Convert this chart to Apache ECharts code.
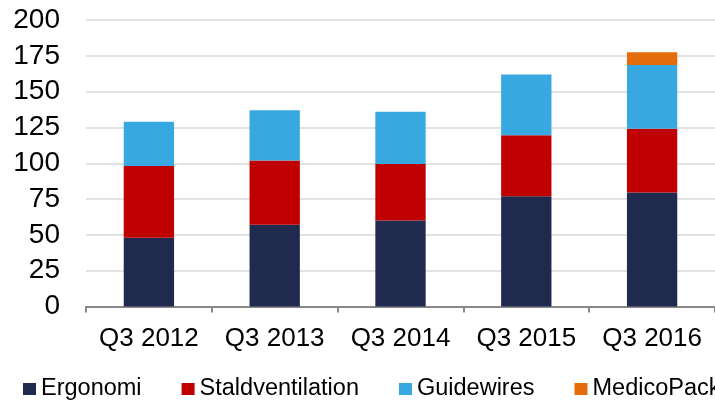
<!DOCTYPE html>
<html lang="da">
<head>
    <meta charset="UTF-8">
    <title>Omsætning pr. forretningsområde</title>
    <script src="https://cdn.jsdelivr.net/npm/echarts@6/dist/echarts.min.js"></script>
    <style>
        html, body {
            width: 100%;
            height: 100%;
            margin: 0;
            overflow: hidden;
            background: #fff;
        }
        #main {
            width: 715px;
            height: 401px;
        }
    </style>
</head>
<body>
<div id="main"></div>
<script>
    // data
    var quarters = ['Q3 2012', 'Q3 2013', 'Q3 2014', 'Q3 2015', 'Q3 2016'];
    var ergonomi = [48, 57, 60, 77, 79.5];
    var staldventilation = [50, 45, 39.5, 42.5, 44.5];
    var guidewires = [31, 35, 36.5, 42.5, 44.5];
    var medicoPack = [0, 0, 0, 0, 9];
    var yTicks = [0, 25, 50, 75, 100, 125, 150, 175, 200];

    var font = '"Liberation Sans", Arial, sans-serif';

    function stack(name, values, color) {
        return {
            name: name,
            type: 'bar',
            stack: 'total',
            barWidth: '40%',
            data: values,
            itemStyle: { color: color },
            emphasis: { disabled: true }
        };
    }

    var myChart = echarts.init(document.getElementById('main'));
    var option = {
        animation: false,
        grid: {
            left: 86,
            right: -6,
            top: 20,
            bottom: 94.5,
            containLabel: false
        },
        legend: {
            left: 23,
            top: 377,
            width: 1000,
            padding: 0,
            icon: 'rect',
            itemWidth: 13,
            itemHeight: 12,
            itemGap: 40,
            textStyle: { fontFamily: font, fontSize: 23.5, color: '#000' },
            data: ['Ergonomi', 'Staldventilation', 'Guidewires', 'MedicoPack']
        },
        xAxis: {
            type: 'category',
            data: quarters,
            axisLine: { lineStyle: { color: '#898989', width: 2 } },
            axisTick: { show: true, length: 6, lineStyle: { color: '#898989', width: 2 } },
            axisLabel: { fontFamily: font, fontSize: 26, color: '#000', margin: 19, interval: 0 }
        },
        yAxis: {
            type: 'value',
            min: yTicks[0],
            max: yTicks[yTicks.length - 1],
            interval: 25,
            axisLine: { show: false },
            axisTick: { show: false },
            axisLabel: { fontFamily: font, fontSize: 28, color: '#000', margin: 26 },
            splitLine: { lineStyle: { color: '#d9d9d9', width: 1.5 } }
        },
        series: [
            stack('Ergonomi', ergonomi, '#1f2a4e'),
            stack('Staldventilation', staldventilation, '#c00000'),
            stack('Guidewires', guidewires, '#38a8e0'),
            stack('MedicoPack', medicoPack, '#e46c0a')
        ]
    };
    myChart.setOption(option);
</script>
</body>
</html>
